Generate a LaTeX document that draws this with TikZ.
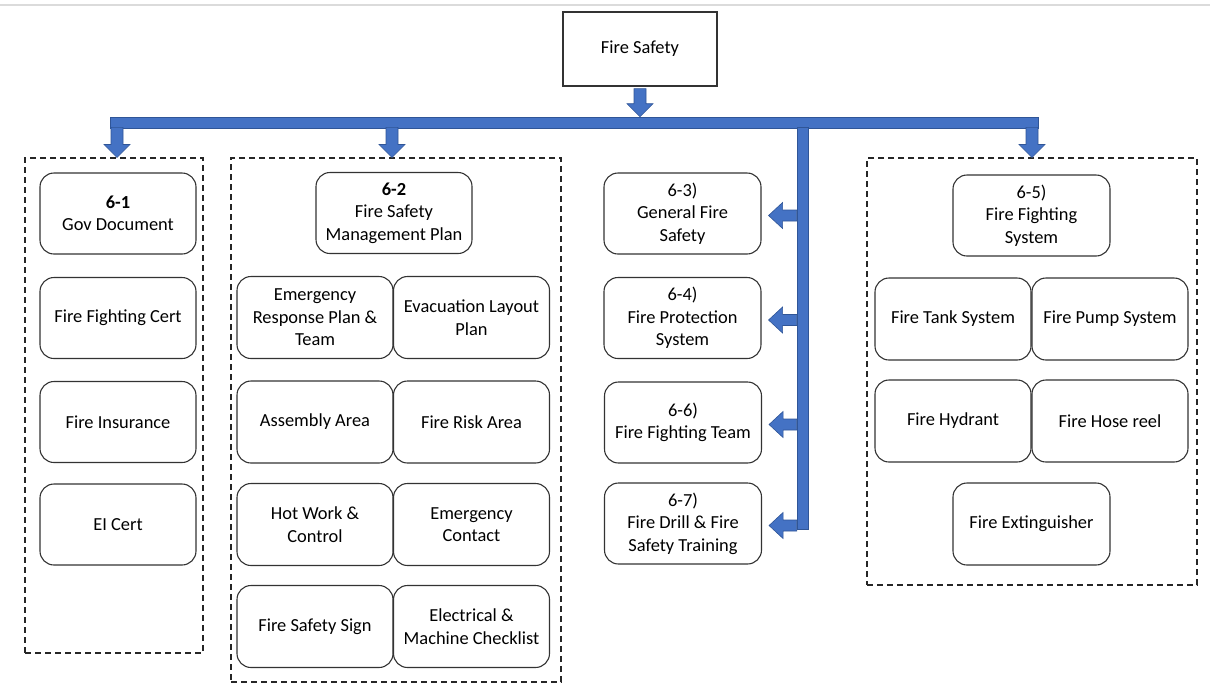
\documentclass[tikz,border=0pt]{standalone}
\usepackage{fontspec}
\setmainfont{Carlito}
\usetikzlibrary{calc}

\definecolor{blockblue}{HTML}{4472C4}
\definecolor{blockedge}{HTML}{2F5597}
\definecolor{boxline}{HTML}{333333}

\tikzset{
  item/.style={draw=boxline, line width=1.1pt, rounded corners=14pt, align=center,
    inner sep=0pt, font=\fontsize{18.4}{22.5}\selectfont,
    minimum width=156pt, minimum height=81pt},
  rootbox/.style={draw=boxline, line width=1.1pt, align=center, inner sep=0pt,
    font=\fontsize{18.4}{22.5}\selectfont, minimum width=154pt, minimum height=74pt},
  group/.style={draw=black!85, line width=1.1pt, dash pattern=on 6pt off 4pt, inner sep=0pt},
  blockarrow/.style={fill=blockblue, draw=blockedge, line width=0.6pt},
}

% block arrow pointing down: #1 = top of shaft, #2 = tip
\newcommand{\ArrowDown}[2]{%
  \filldraw[blockarrow] ($(#1)+(-6,0)$) -- ($(#2)+(-6,-13)$) -- ($(#2)+(-13,-13)$)
    -- (#2) -- ($(#2)+(13,-13)$) -- ($(#2)+(6,-13)$) -- ($(#1)+(6,0)$) -- cycle;}
% block arrow pointing left: #1 = start of shaft, #2 = tip
\newcommand{\ArrowLeft}[2]{%
  \filldraw[blockarrow] ($(#1)+(0,-5.5)$) -- ($(#2)+(14,-5.5)$) -- ($(#2)+(14,-13)$)
    -- (#2) -- ($(#2)+(14,13)$) -- ($(#2)+(14,5.5)$) -- ($(#1)+(0,5.5)$) -- cycle;}

\begin{document}
\begin{tikzpicture}[x=1pt,y=-1pt]
\useasboundingbox (0,0) rectangle (1210,686);

% thin rule along the top edge
\draw[black!14, line width=1.5pt] (0,5) -- (1210,5);

% root
\node[rootbox] (top) at (640,49) {Fire Safety};

% group frames
\node[group, minimum width=178pt, minimum height=495pt] (g1) at (114,405.5) {};
\node[group, minimum width=330pt, minimum height=524pt] (g2) at (396,420) {};
\node[group, minimum width=330pt, minimum height=427pt] (g5) at (1032,371.5) {};

% 6-1 column
\node[item] (b61)  at (118,213.5) {\textbf{6-1}\\Gov Document};
\node[item] (ffc)  at (118,318)   {Fire Fighting Cert};
\node[item] (ins)  at (118,422)   {Fire Insurance};
\node[item] (eic)  at (118,524.5) {EI Cert};

% 6-2 column
\node[item] (b62)  at (394,213)   {\textbf{6-2}\\Fire Safety\\Management Plan};
\node[item, minimum height=82pt] (erp) at (315,317.5) {Emergency\\Response Plan \&\\Team};
\node[item, minimum height=82pt] (evl) at (471.5,317.5) {Evacuation Layout\\Plan};
\node[item, minimum height=82pt] (asa) at (315,422) {Assembly Area};
\node[item, minimum height=82pt] (fra) at (471.5,422) {Fire Risk Area};
\node[item, minimum height=82pt] (hwc) at (315,524.5) {Hot Work \&\\Control};
\node[item, minimum height=82pt] (emc) at (471.5,524.5) {Emergency\\Contact};
\node[item, minimum height=82pt] (fss) at (315,626.5) {Fire Safety Sign};
\node[item, minimum height=82pt] (emk) at (471.5,626.5) {Electrical \&\\Machine Checklist};

% 6-3, 6-4, 6-6, 6-7 column
\node[item, minimum width=157pt] (b63) at (682.5,213.5) {6-3)\\General Fire\\Safety};
\node[item, minimum width=157pt] (b64) at (682.5,318)   {6-4)\\Fire Protection\\System};
\node[item, minimum width=157pt] (b66) at (683,422.5)   {6-6)\\Fire Fighting Team};
\node[item, minimum width=157pt] (b67) at (683,523.5)   {6-7)\\Fire Drill \& Fire\\Safety Training};

% 6-5 column
\node[item, minimum width=157pt] (b65) at (1031.5,215.5) {6-5)\\Fire Fighting\\System};
\node[item, minimum height=82pt] (fts) at (953,319)   {Fire Tank System};
\node[item, minimum height=82pt] (fps) at (1110,319)  {Fire Pump System};
\node[item, minimum height=82pt] (fhy) at (953,421)   {Fire Hydrant};
\node[item, minimum height=82pt] (fhr) at (1110,421)  {Fire Hose reel};
\node[item, minimum width=157pt, minimum height=82pt] (fex) at (1031.5,524) {Fire Extinguisher};

% distribution bars
\node[blockarrow, draw, minimum width=928pt, minimum height=11pt, inner sep=0pt] (bar) at (574,122.5) {};
\node[blockarrow, draw, minimum width=11pt, minimum height=402pt, inner sep=0pt] (vbar) at (802.5,328) {};

% root to bar
\coordinate (a0s) at ($(top.south)+(0,2)$);
\coordinate (a0t) at (top.south |- bar.north);
\ArrowDown{a0s}{a0t}

% bar to groups
\coordinate (a1s) at ($(g1.north |- bar.south)+(3,-1)$);
\coordinate (a1t) at ($(g1.north)+(3,0)$);
\ArrowDown{a1s}{a1t}
\coordinate (a2s) at ($(g2.north |- bar.south)+(-4,-1)$);
\coordinate (a2t) at ($(g2.north)+(-4,0)$);
\ArrowDown{a2s}{a2t}
\coordinate (a5s) at ($(g5.north |- bar.south)+(0,-1)$);
\coordinate (a5t) at (g5.north);
\ArrowDown{a5s}{a5t}

% vertical bar to single items
\foreach \b in {b63,b64,b66,b67}{
  \coordinate (\b s) at ($(vbar.west |- \b.east)+(0,2)$);
  \coordinate (\b t) at ($(\b.east)+(7,2)$);
  \ArrowLeft{\b s}{\b t}
}
\end{tikzpicture}
\end{document}
